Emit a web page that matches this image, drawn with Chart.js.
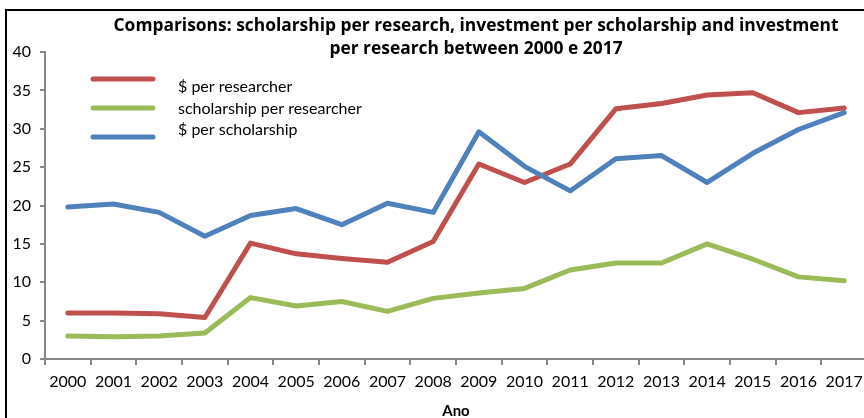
<!DOCTYPE html>
<html>
<head>
<meta charset="utf-8">
<title>Comparisons</title>
<script src="https://cdn.jsdelivr.net/npm/chart.js@4/dist/chart.umd.min.js"></script>
<style>
  html, body { margin: 0; padding: 0; overflow: hidden; background: #fff; }
  #wrap { position: absolute; left: 0; top: 0; width: 870px; height: 440px; }
  #frame {
    position: absolute; left: 5px; top: 9px; width: 900px; height: 500px;
    border-left: 2px solid #000; border-top: 2px solid #000; pointer-events: none;
  }
</style>
</head>
<body>
<div id="wrap"><canvas id="chart" width="870" height="440"></canvas></div>
<div id="frame"></div>
<script>
const years = ['2000', '2001', '2002', '2003', '2004', '2005', '2006', '2007', '2008',
  '2009', '2010', '2011', '2012', '2013', '2014', '2015', '2016', '2017'];
const perResearcher = [6.0, 6.0, 5.9, 5.4, 15.1, 13.7, 13.1, 12.6, 15.3,
  25.4, 23.0, 25.4, 32.6, 33.3, 34.4, 34.7, 32.1, 32.7];
const scholarshipPerResearcher = [3.0, 2.9, 3.0, 3.4, 8.0, 6.9, 7.5, 6.2, 7.9,
  8.6, 9.2, 11.6, 12.5, 12.5, 15.0, 13.0, 10.7, 10.2];
const perScholarship = [19.8, 20.2, 19.1, 16.0, 18.7, 19.6, 17.5, 20.3, 19.1,
  29.6, 25.1, 21.9, 26.1, 26.5, 23.0, 26.8, 29.9, 32.1];
const seriesNames = ['$ per researcher', 'scholarship per researcher', '$ per scholarship'];
const seriesColors = ['#C0504D', '#9BBB59', '#4F81BD'];
const titleLines = [
  'Comparisons: scholarship per research, investment per scholarship and investment',
  'per research between 2000 e 2017'
];
const yTicks = [0, 5, 10, 15, 20, 25, 30, 35, 40];

const FONT = 'Lato, "Open Sans", sans-serif';
const AXIS = '#868686';

// two-line heading, centred a little right of the canvas middle
const headingPlugin = {
  id: 'heading',
  afterDraw(chart) {
    const ctx = chart.ctx;
    ctx.save();
    ctx.font = 'bold 17.4px "Open Sans", sans-serif';
    ctx.fillStyle = '#000';
    ctx.textAlign = 'center';
    ctx.textBaseline = 'middle';
    titleLines.forEach((t, i) => ctx.fillText(t, 476, 26.5 + i * 23));
    ctx.restore();
  }
};

// legend in the upper-left corner of the plot
const keyPlugin = {
  id: 'key',
  afterDraw(chart) {
    const ctx = chart.ctx;
    ctx.save();
    chart.data.datasets.forEach((ds, i) => {
      const ly = 79 + i * 29;
      ctx.strokeStyle = ds.borderColor;
      ctx.lineWidth = 5;
      ctx.lineCap = 'round';
      ctx.beginPath();
      ctx.moveTo(93, ly);
      ctx.lineTo(153, ly);
      ctx.stroke();
      ctx.font = '16px ' + FONT;
      ctx.fillStyle = '#000';
      ctx.textBaseline = 'middle';
      ctx.fillText(ds.label, 178, 87 + i * 21.5);
    });
    ctx.restore();
  }
};

const series = [perResearcher, scholarshipPerResearcher, perScholarship];
const drawOrder = [1, 2, 0];

new Chart(document.getElementById('chart'), {
  type: 'line',
  data: {
    labels: years,
    datasets: series.map((values, i) => ({
      label: seriesNames[i],
      data: values,
      borderColor: seriesColors[i],
      backgroundColor: seriesColors[i],
      borderWidth: 5,
      pointRadius: 0,
      tension: 0,
      borderCapStyle: 'round',
      borderJoinStyle: 'round',
      order: drawOrder[i]
    }))
  },
  options: {
    responsive: false,
    animation: false,
    layout: { padding: { top: 52, right: 3, left: 0, bottom: 0 } },
    plugins: {
      legend: { display: false },
      title: { display: false },
      tooltip: { enabled: false }
    },
    scales: {
      x: {
        offset: true,
        grid: { drawOnChartArea: false, tickLength: 6, color: AXIS, lineWidth: 2, offset: true },
        border: { color: AXIS, width: 2 },
        ticks: { color: '#000', font: { family: FONT, size: 16 }, padding: 7, maxRotation: 0, autoSkip: false },
        title: {
          display: true, text: 'Ano', color: '#000',
          font: { family: FONT, size: 15, weight: 'bold' },
          padding: { top: 0, bottom: 20 }
        },
        afterFit(scale) { scale.height = 440 - 359; }
      },
      y: {
        min: 0,
        max: 40,
        afterBuildTicks(scale) { scale.ticks = yTicks.map(v => ({ value: v })); },
        grid: { drawOnChartArea: false, tickLength: 5, color: AXIS, lineWidth: 2 },
        border: { color: AXIS, width: 2 },
        ticks: { color: '#000', font: { family: FONT, size: 16 }, padding: 9 },
        afterFit(scale) { scale.width = 45; }
      }
    }
  },
  plugins: [headingPlugin, keyPlugin]
});
</script>
</body>
</html>
